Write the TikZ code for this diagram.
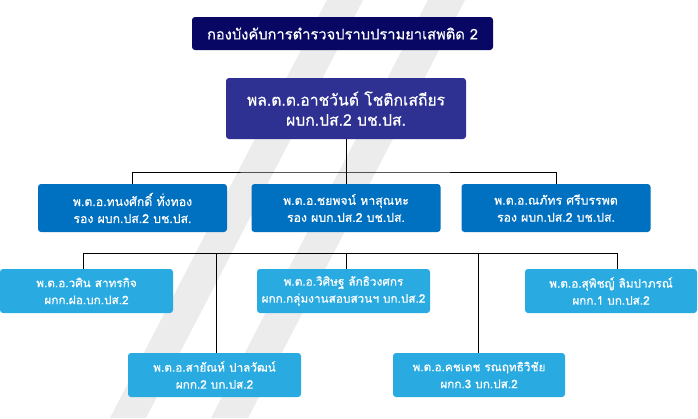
\documentclass[tikz,border=0pt]{standalone}
\usepackage{fontspec}
\newfontfamily\thaifont[Script=Thai,FakeBold=0.6]{Loma}
\definecolor{navy}{RGB}{8,8,100}
\definecolor{chiefc}{RGB}{46,49,146}
\definecolor{deputyc}{RGB}{0,112,192}
\definecolor{unitc}{RGB}{41,171,226}
\definecolor{stripec}{RGB}{236,236,236}
\begin{document}
\begin{tikzpicture}[x=1pt,y=-1pt,
  box/.style={rounded corners=3pt, text=white, align=center, inner sep=0pt, font=\thaifont},
  titlebox/.style={box, fill=navy, minimum width=301pt, minimum height=33pt, font=\thaifont\fontsize{14.7}{17}\selectfont},
  chiefbox/.style={box, fill=chiefc, minimum width=240pt, minimum height=61pt, font=\thaifont\fontsize{15.7}{20}\selectfont},
  deputybox/.style={box, fill=deputyc, minimum width=189pt, minimum height=48pt, font=\thaifont\fontsize{12.3}{17}\selectfont},
  unitbox/.style={box, fill=unitc, minimum width=173pt, minimum height=44pt, font=\thaifont\fontsize{11.8}{17}\selectfont},
  conn/.style={draw=black, line width=1pt}]
\useasboundingbox (0,0) rectangle (698,418);
\fill[white] (0,0) rectangle (698,418);
% background stripes
\fill[stripec] (327,0) -- (363,0) -- (146,418) -- (110,418) -- cycle;
\fill[stripec] (428,0) -- (465,0) -- (248,418) -- (211,418) -- cycle;

\node[titlebox] (title) at (342.5,33.5) {กองบังคับการตำรวจปราบปรามยาเสพติด 2};
\node[chiefbox] (chief) at (346,108.5) {พล.ต.ต.อาชวันต์ โชติกเสถียร\\ผบก.ปส.2 บช.ปส.};

\node[deputybox] (d1) at (132.5,208) {พ.ต.อ.ทนงศักดิ์ ทั่งทอง\\รอง ผบก.ปส.2 บช.ปส.};
\node[deputybox] (d2) at (346,208) {พ.ต.อ.ชยพจน์ หาสุณหะ\\รอง ผบก.ปส.2 บช.ปส.};
\node[deputybox] (d3) at (556,208) {พ.ต.อ.ณภัทร ศรีบรรพต\\รอง ผบก.ปส.2 บช.ปส.};

\node[unitbox] (u1) at (86.5,291) {พ.ต.อ.วศิน สาทรกิจ\\ผกก.ฝอ.บก.ปส.2};
\node[unitbox] (u3) at (343.5,291) {พ.ต.อ.วิศิษฐ ลักธิวงศกร\\ผกก.กลุ่มงานสอบสวนฯ บก.ปส.2};
\node[unitbox, minimum width=172pt] (u5) at (611,291) {พ.ต.อ.สุพิชญ์ ลิมปาภรณ์\\ผกก.1 บก.ปส.2};
\node[unitbox] (u2) at (214.5,375) {พ.ต.อ.สายัณห์ ปาลวัฒน์\\ผกก.2 บก.ปส.2};
\node[unitbox, minimum width=172pt] (u4) at (479,375) {พ.ต.อ.คชเดช รณฤทธิวิชัย\\ผกก.3 บก.ปส.2};

% upper bus
\coordinate (bus1) at (346,172);
\draw[conn] (chief.south) -- (d2.north);
\draw[conn] (d1.north) |- (bus1) -| (d3.north);

% lower bus
\coordinate (bus2l) at (83,253);
\coordinate (bus2r) at (617,253);
\coordinate (bus2a) at (216,253);
\coordinate (bus2b) at (346,253);
\coordinate (bus2c) at (478,253);
\draw[conn] (bus2l) -- (bus2r);
\draw[conn] (bus2l) -- (bus2l |- u1.north);
\draw[conn] (bus2r) -- (bus2r |- u5.north);
\draw[conn] (bus2b) -- (bus2b |- u3.north);
\draw[conn] (bus2a) -- (bus2a |- u2.north);
\draw[conn] (bus2c) -- (bus2c |- u4.north);
\end{tikzpicture}
\end{document}
